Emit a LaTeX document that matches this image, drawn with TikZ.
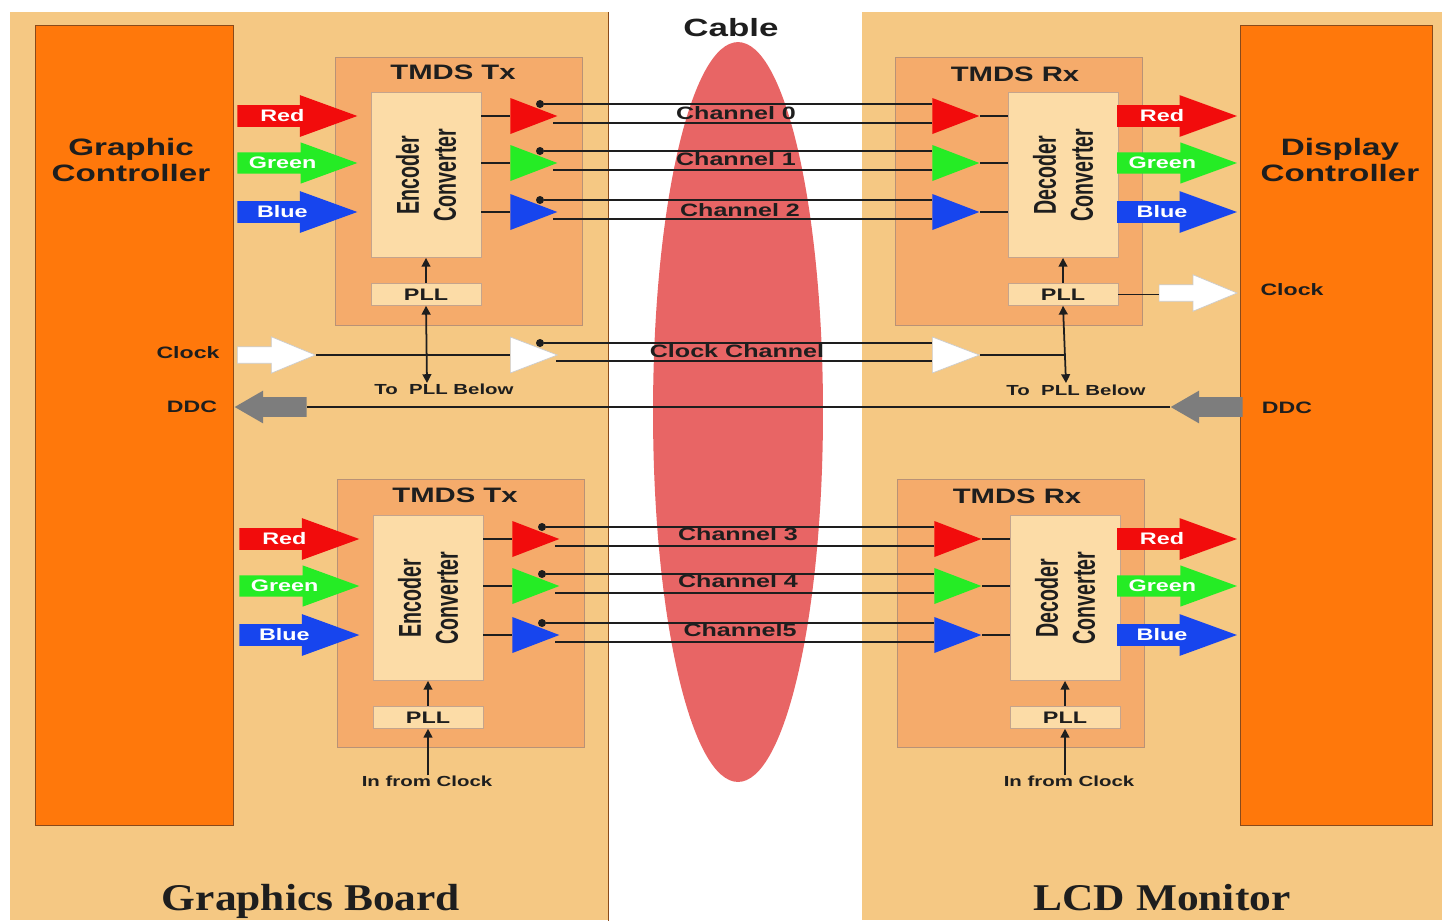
\documentclass[tikz,border=0pt]{standalone}
\usepackage{fontspec}
\setmainfont{Liberation Sans}
\newfontfamily\widesf[FakeStretch=1.4]{Liberation Sans}
\newfontfamily\narrowsf[FakeStretch=0.62]{Liberation Sans}
\newfontfamily\boardrm[FakeStretch=1.15]{Liberation Serif}
\usetikzlibrary{arrows.meta,positioning,shapes.geometric,shapes.arrows,calc}
\definecolor{boardtan}{HTML}{F5C883}
\definecolor{tmdsfill}{HTML}{F5AB6B}
\definecolor{convfill}{HTML}{FCDCA7}
\definecolor{ctrlorange}{HTML}{FF780B}
\definecolor{edge}{HTML}{8A4A1A}
\definecolor{cablered}{HTML}{E86565}
\definecolor{sigred}{HTML}{F20C0C}
\definecolor{siggreen}{HTML}{25EC25}
\definecolor{sigblue}{HTML}{1745EE}
\definecolor{ddcgray}{HTML}{7D7D7D}
\definecolor{ink}{HTML}{1E1E1E}
\tikzset{
  board/.style={rectangle,fill=boardtan,minimum height=18.16cm,anchor=north west,inner sep=0},
  ctrl/.style={rectangle,fill=ctrlorange,draw=edge,line width=0.8pt,minimum width=3.96cm,minimum height=16cm,anchor=north west,inner sep=0},
  tmds/.style={rectangle,fill=tmdsfill,draw=edge!60,line width=0.5pt,minimum width=4.94cm,minimum height=5.36cm,anchor=north west,inner sep=0},
  conv/.style={rectangle,fill=convfill,draw=edge!50,line width=0.5pt,minimum width=2.2cm,minimum height=3.3cm,inner sep=0},
  convtxt/.style={rotate=90,align=center,text=ink,font=\narrowsf\bfseries\fontsize{18}{21}\selectfont},
  pll/.style={conv,minimum height=0.44cm,text=ink,font=\widesf\bfseries\fontsize{9.5}{10}\selectfont},
  buf/.style={isosceles triangle,isosceles triangle stretches,minimum width=0.72cm,minimum height=0.94cm,inner sep=0,anchor=lower side},
  bubble/.style={circle,fill=ink,inner sep=0,minimum size=0.16cm},
  fat/.style={single arrow,single arrow tip angle=40,single arrow head extend=0.2cm,minimum height=2.4cm,minimum width=0.82cm,
              inner xsep=1pt,inner ysep=2.5pt,anchor=tail,text=white,font=\widesf\bfseries\fontsize{9.5}{10}\selectfont},
  hollow/.style={single arrow,single arrow tip angle=45,single arrow head extend=0.2cm,minimum height=1.56cm,minimum width=0.72cm,
              inner sep=4.5pt,fill=white,draw=gray!40,line width=0.4pt,anchor=tail},
  ddc/.style={single arrow,single arrow tip angle=60,single arrow head extend=0.13cm,minimum height=1.44cm,minimum width=0.64cm,
              inner sep=5.4pt,fill=ddcgray,shape border rotate=180,anchor=tip},
  wire/.style={draw=ink,line width=0.6pt},
  arr/.style={draw=ink,line width=1pt,-{Triangle[length=5pt,width=5pt]}},
  dbl/.style={draw=ink,line width=1pt,{Triangle[length=5pt,width=5pt]}-{Triangle[length=5pt,width=5pt]}},
  ttl/.style={text=ink,inner sep=0,font=\widesf\bfseries\fontsize{11.9}{12}\selectfont},
  chl/.style={text=ink,inner sep=0,font=\widesf\bfseries\fontsize{10.2}{11}\selectfont},
  sig/.style={text=ink,inner sep=0,font=\widesf\bfseries\fontsize{9.4}{10}\selectfont},
  note/.style={text=ink,inner sep=0,font=\widesf\bfseries\fontsize{8.3}{9}\selectfont},
  ctl/.style={text=ink,align=center,inner sep=0,font=\widesf\bfseries\fontsize{13.5}{14.5}\selectfont},
  brd/.style={text=ink,inner sep=0,anchor=base,font=\boardrm\bfseries\fontsize{21.5}{22}\selectfont},
}
\begin{document}
\begin{tikzpicture}[x=0.02cm,y=-0.02cm]
\useasboundingbox (0,0) rectangle (1442,920);
% boards, cable, controllers
\node[board,minimum width=11.96cm] (gb) at (10,12) {};
\node[board,minimum width=11.6cm] (lcd) at (862,12) {};
\draw[edge,line width=1pt] (gb.north east)--(gb.south east);
\node[ellipse,fill=cablered,minimum width=3.4cm,minimum height=14.8cm] (cbl) at (738,412) {};
\node[font=\widesf\bfseries\fontsize{14.2}{15}\selectfont,text=ink,inner sep=0] (cbltxt) at (731,28) {Cable};
\node[ctrl] (gc) at (35,25) {};
\node[ctrl,minimum width=3.84cm] (dc) at (1240,25) {};
\node[ctl] (gctxt) at (131,160) {Graphic\\Controller};
\node[ctl] (dctxt) at (1340,160) {Display\\Controller};
\node[brd] (gbtxt) at (311,910) {Graphics Board};
\node[brd] (lcdtxt) at (1162,910) {LCD Monitor};

% upper link: Tx
\node[tmds] (tx1) at (335,57) {};
\node[ttl] (tx1t) at (453,72) {TMDS Tx};
\node[conv] (enc1) at (426,175) {};
\node[convtxt] (enc1t) at (enc1) {Encoder\\Converter};
\node[pll,below=0.5cm of enc1] (tpll1) {PLL};
\node[fat,fill=sigred] (tin1) at (237,116) {Red};
\node[fat,fill=siggreen] (tin2) at (237,163) {Green};
\node[fat,fill=sigblue] (tin3) at (237,212) {Blue};
\node[buf,fill=sigred] (tb1) at (510,116) {};
\node[buf,fill=siggreen] (tb2) at (510,163) {};
\node[buf,fill=sigblue] (tb3) at (510,212) {};
\node[bubble] (td1) at (540,104) {};
\node[bubble] (td2) at (540,151) {};
\node[bubble] (td3) at (540,200) {};
% upper link: Rx
\node[tmds] (rx1) at (895,57) {};
\node[ttl] (rx1t) at (1015,74) {TMDS Rx};
\node[conv] (dec1) at (1063,175) {};
\node[convtxt] (dec1t) at (dec1) {Decoder\\Converter};
\node[pll,below=0.5cm of dec1] (rpll1) {PLL};
\node[buf,fill=sigred] (rb1) at (932,116) {};
\node[buf,fill=siggreen] (rb2) at (932,163) {};
\node[buf,fill=sigblue] (rb3) at (932,212) {};
\node[fat,fill=sigred,anchor=tip] (rout1) at (1238,116) {Red};
\node[fat,fill=siggreen,anchor=tip] (rout2) at (1238,163) {Green};
\node[fat,fill=sigblue,anchor=tip] (rout3) at (1238,212) {Blue};
\coordinate (lo1) at (553,123); \coordinate (lo2) at (553,170); \coordinate (lo3) at (553,219);
\draw[wire] (enc1.east |- tb1.lower side)--(tb1.lower side);
\draw[wire] (enc1.east |- tb2.lower side)--(tb2.lower side);
\draw[wire] (enc1.east |- tb3.lower side)--(tb3.lower side);
\draw[wire] (td1)--(td1 -| rb1.lower side); \draw[wire] (lo1)--(lo1 -| rb1.lower side);
\draw[wire] (td2)--(td2 -| rb2.lower side); \draw[wire] (lo2)--(lo2 -| rb2.lower side);
\draw[wire] (td3)--(td3 -| rb3.lower side); \draw[wire] (lo3)--(lo3 -| rb3.lower side);
\draw[wire] (rb1.apex)--(rb1.apex -| dec1.west);
\draw[wire] (rb2.apex)--(rb2.apex -| dec1.west);
\draw[wire] (rb3.apex)--(rb3.apex -| dec1.west);
\node[chl] (ch0) at (736,113) {Channel 0};
\node[chl] (ch1) at (736,159) {Channel 1};
\node[chl] (ch2) at (740,210) {Channel 2};
\draw[arr] (tpll1.north)--(enc1.south);
\draw[arr] (rpll1.north)--(dec1.south);

% clock and DDC
\node[hollow] (clkin) at (237,355) {};
\node[sig] (clkintxt) at (188,353) {Clock};
\node[buf,fill=white,draw=gray!40,line width=0.4pt] (tclk) at (510,355) {};
\node[bubble] (tcd) at (540,343) {};
\node[buf,fill=white,draw=gray!40,line width=0.4pt] (rclk) at (932,355) {};
\node[hollow,anchor=tip] (clkout) at (1238,293) {};
\node[sig] (clkouttxt) at (1292,290) {Clock};
\coordinate (clo) at (556,361);
\coordinate (tdn) at (427,383);
\coordinate (rj) at (1066,355);
\coordinate (rdn) at (1066,383);
\draw[wire] (clkin.tip)--(tclk.lower side);
\draw[wire] (tcd)--(tcd -| rclk.lower side); \draw[wire] (clo)--(clo -| rclk.lower side);
\draw[wire] (rclk.apex)--(rj);
\draw[wire] (rpll1.east)--(rpll1.east -| clkout.tail);
\draw[dbl] (tpll1.south)--(tdn);
\draw[dbl] (rpll1.south)--(rdn);
\node[chl] (clkch) at (737,351) {Clock Channel};
\node[note] (tdntxt) at (444,389) {To\ \ PLL Below};
\node[note] (rdntxt) at (1076,390) {To\ \ PLL Below};
\node[ddc] (ddcl) at (234,407) {};
\node[ddc] (ddcr) at (1170,407) {};
\draw[wire] (ddcr.tip)--(ddcl.tail);
\node[sig] (ddcltxt) at (192,407) {DDC};
\node[sig] (ddcrtxt) at (1287,408) {DDC};

% lower link: Tx
\node[tmds] (tx2) at (337,479) {};
\node[ttl] (tx2t) at (455,495) {TMDS Tx};
\node[conv] (enc2) at (428,598) {};
\node[convtxt] (enc2t) at (enc2) {Encoder\\Converter};
\node[pll,below=0.5cm of enc2] (tpll2) {PLL};
\node[fat,fill=sigred] (tin4) at (239,539) {Red};
\node[fat,fill=siggreen] (tin5) at (239,586) {Green};
\node[fat,fill=sigblue] (tin6) at (239,635) {Blue};
\node[buf,fill=sigred] (tb4) at (512,539) {};
\node[buf,fill=siggreen] (tb5) at (512,586) {};
\node[buf,fill=sigblue] (tb6) at (512,635) {};
\node[bubble] (td4) at (542,527) {};
\node[bubble] (td5) at (542,574) {};
\node[bubble] (td6) at (542,623) {};
\node[note] (tfc) at (427,781) {In from Clock};
% lower link: Rx
\node[tmds] (rx2) at (897,479) {};
\node[ttl] (rx2t) at (1017,496) {TMDS Rx};
\node[conv] (dec2) at (1065,598) {};
\node[convtxt] (dec2t) at (dec2) {Decoder\\Converter};
\node[pll,below=0.5cm of dec2] (rpll2) {PLL};
\node[buf,fill=sigred] (rb4) at (934,539) {};
\node[buf,fill=siggreen] (rb5) at (934,586) {};
\node[buf,fill=sigblue] (rb6) at (934,635) {};
\node[fat,fill=sigred,anchor=tip] (rout4) at (1238,539) {Red};
\node[fat,fill=siggreen,anchor=tip] (rout5) at (1238,586) {Green};
\node[fat,fill=sigblue,anchor=tip] (rout6) at (1238,635) {Blue};
\node[note] (rfc) at (1069,781) {In from Clock};
\coordinate (lo4) at (555,546); \coordinate (lo5) at (555,593); \coordinate (lo6) at (555,642);
\draw[wire] (enc2.east |- tb4.lower side)--(tb4.lower side);
\draw[wire] (enc2.east |- tb5.lower side)--(tb5.lower side);
\draw[wire] (enc2.east |- tb6.lower side)--(tb6.lower side);
\draw[wire] (td4)--(td4 -| rb4.lower side); \draw[wire] (lo4)--(lo4 -| rb4.lower side);
\draw[wire] (td5)--(td5 -| rb5.lower side); \draw[wire] (lo5)--(lo5 -| rb5.lower side);
\draw[wire] (td6)--(td6 -| rb6.lower side); \draw[wire] (lo6)--(lo6 -| rb6.lower side);
\draw[wire] (rb4.apex)--(rb4.apex -| dec2.west);
\draw[wire] (rb5.apex)--(rb5.apex -| dec2.west);
\draw[wire] (rb6.apex)--(rb6.apex -| dec2.west);
\node[chl] (ch3) at (738,534) {Channel 3};
\node[chl] (ch4) at (738,581) {Channel 4};
\node[chl] (ch5) at (740,630) {Channel5};
\draw[arr] (tpll2.north)--(enc2.south);
\draw[arr] (rpll2.north)--(dec2.south);
\draw[arr] (tfc.north -| tpll2.south)--(tpll2.south);
\draw[arr] (rfc.north -| rpll2.south)--(rpll2.south);
\end{tikzpicture}
\end{document}
